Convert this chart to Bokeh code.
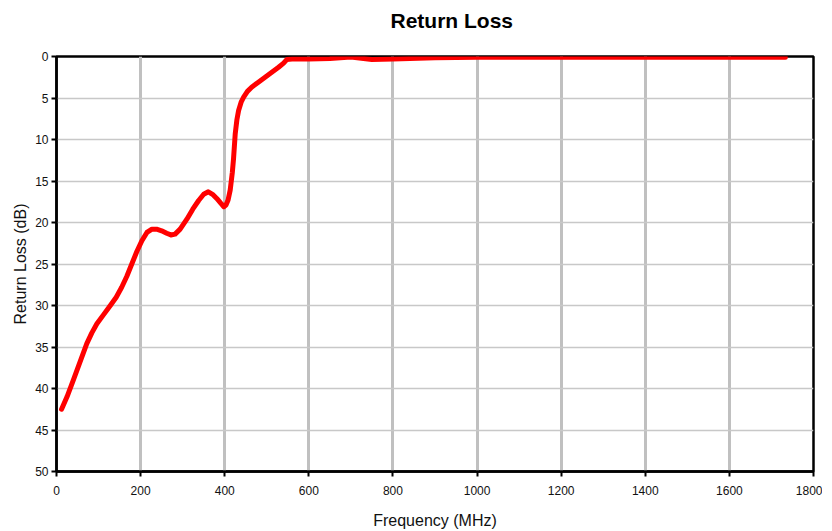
from bokeh.plotting import figure
from bokeh.models import Range1d, FixedTicker, Title
from bokeh.embed import file_html
from bokeh.resources import INLINE

freq_mhz = [12, 25, 40, 56, 72, 84, 96, 112, 128, 142, 155, 167, 179, 191, 203, 215, 227,
            238, 250, 262, 272, 282, 294, 310, 324, 338, 350, 361, 371, 381, 391, 398, 403,
            408, 413, 418, 421, 425, 429, 433, 439, 445, 454, 464, 480, 496, 512, 528,
            540, 548, 560, 600, 650, 700, 750, 800, 900, 1000, 1200, 1400, 1600, 1733]
return_loss_db = [42.5, 41.0, 39.0, 36.8, 34.6, 33.3, 32.2, 31.1, 30.0, 29.0, 27.8, 26.5,
                  25.0, 23.5, 22.2, 21.2, 20.8, 20.8, 21.0, 21.3, 21.5, 21.4, 20.8, 19.6,
                  18.4, 17.35, 16.6, 16.3, 16.6, 17.1, 17.7, 18.1, 17.9, 17.3, 16.1, 14.0,
                  12.3, 9.3, 7.6, 6.5, 5.5, 4.9, 4.2, 3.7, 3.1, 2.5, 1.9, 1.3, 0.8, 0.35,
                  0.3, 0.3, 0.25, 0.05, 0.35, 0.3, 0.15, 0.1, 0.1, 0.1, 0.1, 0.1]
x_ticks = [0, 200, 400, 600, 800, 1000, 1200, 1400, 1600, 1800]
y_ticks = [0, 5, 10, 15, 20, 25, 30, 35, 40, 45, 50]
title_text = "Return Loss"

FONT = "Liberation Sans"

p = figure(frame_width=757, frame_height=415, output_backend="svg", toolbar_location=None,
           x_range=Range1d(0, 1800), y_range=Range1d(50, 0),
           min_border_left=56, min_border_right=9, min_border_bottom=50, min_border_top=56)

# spacer panel between the frame and the title
spacer = Title(text=" ", text_font=FONT, text_font_size="1px", standoff=18)
p.add_layout(spacer, "above")
title = Title(text=title_text, text_font=FONT, text_font_size="21px", text_font_style="bold",
              text_color="black", align="left", offset=334, standoff=8)
p.add_layout(title, "above")

p.line(freq_mhz, return_loss_db, line_color="#ff0000", line_width=5, line_join="round", line_cap="round")

for ax in (p.xaxis[0], p.yaxis[0]):
    ax.axis_line_color = "black"
    ax.axis_line_width = 2.5
    ax.major_tick_line_color = "black"
    ax.major_tick_line_width = 2
    ax.major_tick_in = 0
    ax.major_tick_out = 5
    ax.minor_tick_line_color = None
    ax.major_label_text_font = FONT
    ax.major_label_text_font_size = "12px"
    ax.major_label_text_color = "#111111"
    ax.axis_label_text_font = FONT
    ax.axis_label_text_font_size = "16px"
    ax.axis_label_text_font_style = "normal"
    ax.axis_label_text_color = "#111111"

p.xaxis[0].ticker = FixedTicker(ticks=x_ticks)
p.yaxis[0].ticker = FixedTicker(ticks=y_ticks)
p.xaxis[0].axis_label = "Frequency (MHz)"
p.yaxis[0].axis_label = "Return Loss (dB)"
p.xaxis[0].major_label_standoff = 9
p.xaxis[0].axis_label_standoff = 14
p.yaxis[0].major_label_standoff = 3
p.yaxis[0].axis_label_standoff = 3

p.xgrid[0].ticker = FixedTicker(ticks=x_ticks)
p.xgrid[0].grid_line_color = "#c0c0c0"
p.xgrid[0].grid_line_width = 3
p.ygrid[0].ticker = FixedTicker(ticks=y_ticks)
p.ygrid[0].grid_line_color = "#c8c8c8"
p.ygrid[0].grid_line_width = 1.5

p.outline_line_color = "black"
p.outline_line_width = 2.5
p.outline_line_alpha = 1.0
p.background_fill_color = "white"
p.border_fill_color = "white"

open("out.html", "w").write(file_html(p, INLINE))
